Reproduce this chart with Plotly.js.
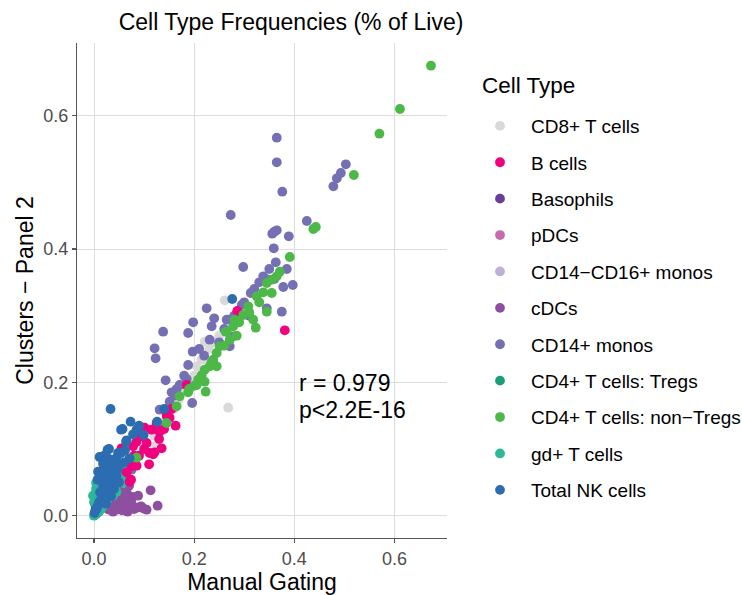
<!DOCTYPE html>
<html>
<head>
<meta charset="utf-8">
<script src="https://cdn.plot.ly/plotly-3.0.1.min.js"></script>
<style>html,body{margin:0;padding:0;background:#fff}#chart{width:742px;height:595px}</style>
</head>
<body>
<div id="chart"></div>
<script>
// ---- data (Manual Gating = x, Clusters - Panel 2 = y) ----
var cellTypes = ["CD8+ T cells","B cells","Basophils","pDCs","CD14\u2212CD16+ monos","cDCs","CD14+ monos","CD4+ T cells: Tregs","CD4+ T cells: non\u2212Tregs","gd+ T cells","Total NK cells"];
var cellColors = ["#D9D9D9","#F0027F","#6A3D9A","#C66BAC","#BEB0D8","#8E4FA0","#7570B3","#1B9E77","#4CB848","#2DB898","#2C6DB2"];
// drawing order (bottom -> top)
var drawOrder = [0,2,3,4,5,6,7,9,1,8,10];

var cd8X = [0.261,0.268,0.215,0.221,0.195,0.205,0.25,0.23,0.18,0.16,0.14,0.12,0.10,0.08,0.24,0.28,0.30,0.20,0.22,0.17,0.121];
var cd8Y = [0.323,0.162,0.234,0.261,0.201,0.224,0.27,0.25,0.19,0.16,0.14,0.12,0.10,0.08,0.26,0.29,0.31,0.21,0.235,0.175,0.104];

var bX = [0.381,0.163,0.286,0.115,0.131,0.095,0.078,0.135,0.111,0.118,0.110,0.055,0.075,0.071,0.085,0.105,0.151,0.125,0.101,0.121,0.074,0.071,0.09,0.10,0.08,0.13,0.14,0.065,0.085,0.185,0.145,0.155];
var bY = [0.278,0.135,0.307,0.129,0.126,0.119,0.104,0.101,0.094,0.092,0.077,0.101,0.074,0.051,0.111,0.109,0.147,0.139,0.132,0.095,0.054,0.085,0.09,0.10,0.09,0.115,0.13,0.065,0.075,0.196,0.15,0.16];

var basoX = [0.002,0.003,0.005,0.001,0.004];
var basoY = [0.018,0.010,0.004,0.002,0.008];

var pdcX = [0.003,0.004,0.005,0.006,0.002];
var pdcY = [0.003,0.002,0.006,0.004,0.005];

var cd16X = [0.02,0.03,0.025,0.035,0.015];
var cd16Y = [0.025,0.03,0.04,0.05,0.02];

var cdcX = [0.113,0.077,0.127,0.098,0.105,0.094,0.041,0.054,0.034,0.045,0.061,0.031,0.067,0.021,0.05,0.06,0.07,0.045,0.038,0.056,0.08,0.075,0.065,0.07,0.085,0.028,0.04,0.05,0.06,0.088];
var cdcY = [0.038,0.028,0.015,0.011,0.009,0.014,0.034,0.024,0.019,0.009,0.014,0.009,0.006,0.014,0.04,0.03,0.02,0.015,0.006,0.008,0.01,0.018,0.035,0.045,0.012,0.01,0.025,0.055,0.06,0.03];

var monoX = [0.365,0.365,0.376,0.503,0.493,0.485,0.478,0.273,0.425,0.360,0.365,0.356,0.389,0.359,0.363,0.298,0.397,0.338,0.375,0.313,0.225,0.240,0.198,0.138,0.188,0.235,0.121,0.123,0.197,0.188,0.143,0.295,0.345,0.265,0.271,0.231,0.171,0.196,0.151,0.145,0.131,0.075,0.378,0.348,0.278,0.33,0.35,0.32,0.30,0.28,0.26,0.25,0.22,0.21,0.18,0.16,0.165,0.155,0.185,0.31,0.36,0.385,0.271];
var monoY = [0.567,0.530,0.486,0.527,0.514,0.506,0.494,0.451,0.442,0.426,0.428,0.423,0.419,0.401,0.380,0.373,0.346,0.359,0.306,0.334,0.311,0.296,0.290,0.276,0.274,0.284,0.251,0.236,0.246,0.226,0.203,0.316,0.311,0.294,0.254,0.264,0.196,0.169,0.171,0.159,0.159,0.069,0.343,0.354,0.269,0.35,0.37,0.34,0.32,0.30,0.28,0.26,0.24,0.25,0.21,0.18,0.19,0.185,0.205,0.30,0.355,0.37,0.294];

var tregX = [0.005,0.010,0.015,0.020,0.008,0.012];
var tregY = [0.006,0.012,0.014,0.022,0.010,0.016];

var nonTregX = [0.673,0.611,0.570,0.519,0.438,0.443,0.391,0.371,0.365,0.355,0.345,0.355,0.345,0.325,0.318,0.323,0.308,0.298,0.281,0.278,0.265,0.271,0.251,0.245,0.238,0.245,0.231,0.221,0.215,0.208,0.221,0.205,0.223,0.188,0.263,0.171,0.165,0.145,0.085,0.338,0.33,0.29,0.26,0.235,0.2,0.19,0.31,0.285];
var nonTregY = [0.675,0.610,0.573,0.511,0.430,0.433,0.388,0.366,0.359,0.354,0.349,0.334,0.306,0.329,0.294,0.282,0.314,0.301,0.294,0.284,0.276,0.264,0.254,0.244,0.234,0.224,0.224,0.219,0.211,0.204,0.201,0.196,0.186,0.185,0.276,0.179,0.164,0.139,0.087,0.335,0.32,0.29,0.255,0.23,0.195,0.19,0.305,0.27];

var gdX = [0.000,0.003,0.006,0.010,0.014,0.018,0.022,0.027,0.031,0.036,0.042,0.048,0.055,0.062,0.000,-0.002,0.004,0.033,0.038,0.045,0.020,0.015,0.024,0.012,0.058,0.004];
var gdY = [0.000,0.002,0.004,0.006,0.010,0.014,0.019,0.024,0.030,0.036,0.042,0.050,0.060,0.070,0.020,0.030,0.040,0.040,0.030,0.036,0.030,0.050,0.068,0.062,0.049,0.049];

var nkX = [0.033,0.276,0.140,0.126,0.073,0.057,0.085,0.099,0.065,0.030,0.011,0.048,0.054,0.064,0.027,0.054,0.071,0.034,0.007,0.047,0.021,0.014,0.001,0.007,0.027,0.041,0.034,0.015,0.020,0.025,0.030,0.040,0.045,0.050,0.038,0.018,0.012,0.028,0.035,0.022,0.010,0.005,0.016,0.040,0.060,0.018,0.008,0.024,0.030,0.044,0.050,0.062,0.078,0.090,0.020];
var nkY = [0.160,0.325,0.160,0.141,0.141,0.130,0.129,0.121,0.113,0.100,0.088,0.094,0.129,0.111,0.099,0.094,0.086,0.074,0.054,0.069,0.039,0.024,0.004,0.014,0.049,0.054,0.029,0.060,0.070,0.080,0.085,0.080,0.060,0.075,0.065,0.045,0.035,0.060,0.045,0.055,0.020,0.010,0.028,0.040,0.080,0.078,0.066,0.018,0.035,0.086,0.050,0.098,0.122,0.135,0.090];

var seriesX = [cd8X,bX,basoX,pdcX,cd16X,cdcX,monoX,tregX,nonTregX,gdX,nkX];
var seriesY = [cd8Y,bY,basoY,pdcY,cd16Y,cdcY,monoY,tregY,nonTregY,gdY,nkY];

var xTicks = [0.0,0.2,0.4,0.6];
var yTicks = [0.0,0.2,0.4,0.6];
var statLines = ["r = 0.979","p&lt;2.2E-16"];
var statY = [0.1995,0.159];

var FONT = "Liberation Sans, Arial, Helvetica, sans-serif";

var traces = drawOrder.map(function(i){
  return {
    type: "scatter", mode: "markers",
    name: cellTypes[i], legendgroup: cellTypes[i], legendrank: i+1,
    x: seriesX[i], y: seriesY[i],
    marker: {color: cellColors[i], size: 9.8, line: {width: 0}},
    hoverinfo: "x+y+name"
  };
});

var axisCommon = {
  showgrid: true, gridcolor: "#DCDCDC", gridwidth: 1,
  zeroline: false, showline: true, linecolor: "#555555", linewidth: 1.1,
  ticks: "outside", ticklen: 4, tickcolor: "#555555", tickwidth: 1.1,
  tickfont: {family: FONT, size: 18, color: "#4D4D4D"},
  tickformat: ".1f", mirror: false
};

var annos = statLines.map(function(t, k){
  return {xref: "x", yref: "y", x: 0.405, y: statY[k], xanchor: "left", yanchor: "middle",
          text: t, align: "left", showarrow: false,
          font: {family: FONT, size: 23, color: "#000000"}};
});
annos.push({xref: "paper", yref: "paper", x: (480-77)/370, y: 1 - (85-43)/495,
            xanchor: "left", yanchor: "middle", text: "Cell Type", showarrow: false,
            font: {family: FONT, size: 22.5, color: "#000000"}});

var layout = {
  width: 742, height: 595,
  margin: {l: 77, r: 295, t: 43, b: 57, pad: 0, autoexpand: false},
  paper_bgcolor: "#FFFFFF", plot_bgcolor: "#FFFFFF",
  font: {family: FONT, color: "#000000"},
  title: {text: "Cell Type Frequencies (% of Live)", font: {family: FONT, size: 23, color: "#000000"},
          xref: "container", x: 291/742, xanchor: "center", yref: "container", y: 1 - 22/595, yanchor: "middle"},
  xaxis: Object.assign({}, axisCommon, {
    range: [-0.034, 0.705], tickvals: xTicks,
    title: {text: "Manual Gating", font: {family: FONT, size: 23, color: "#000000"}, standoff: 6}
  }),
  yaxis: Object.assign({}, axisCommon, {
    range: [-0.0335, 0.709], tickvals: yTicks,
    title: {text: "Clusters \u2212 Panel 2", font: {family: FONT, size: 23, color: "#000000"}, standoff: 3}
  }),
  legend: {
    x: (469-77)/370, xanchor: "left", y: 1 - (107-43)/495, yanchor: "top",
    traceorder: "grouped", tracegroupgap: 8.7, itemwidth: 52,
    font: {family: FONT, size: 19, color: "#000000"},
    bgcolor: "rgba(0,0,0,0)", borderwidth: 0
  },
  annotations: annos,
  showlegend: true
};

Plotly.newPlot("chart", traces, layout, {displayModeBar: false, staticPlot: true});
</script>
</body>
</html>
